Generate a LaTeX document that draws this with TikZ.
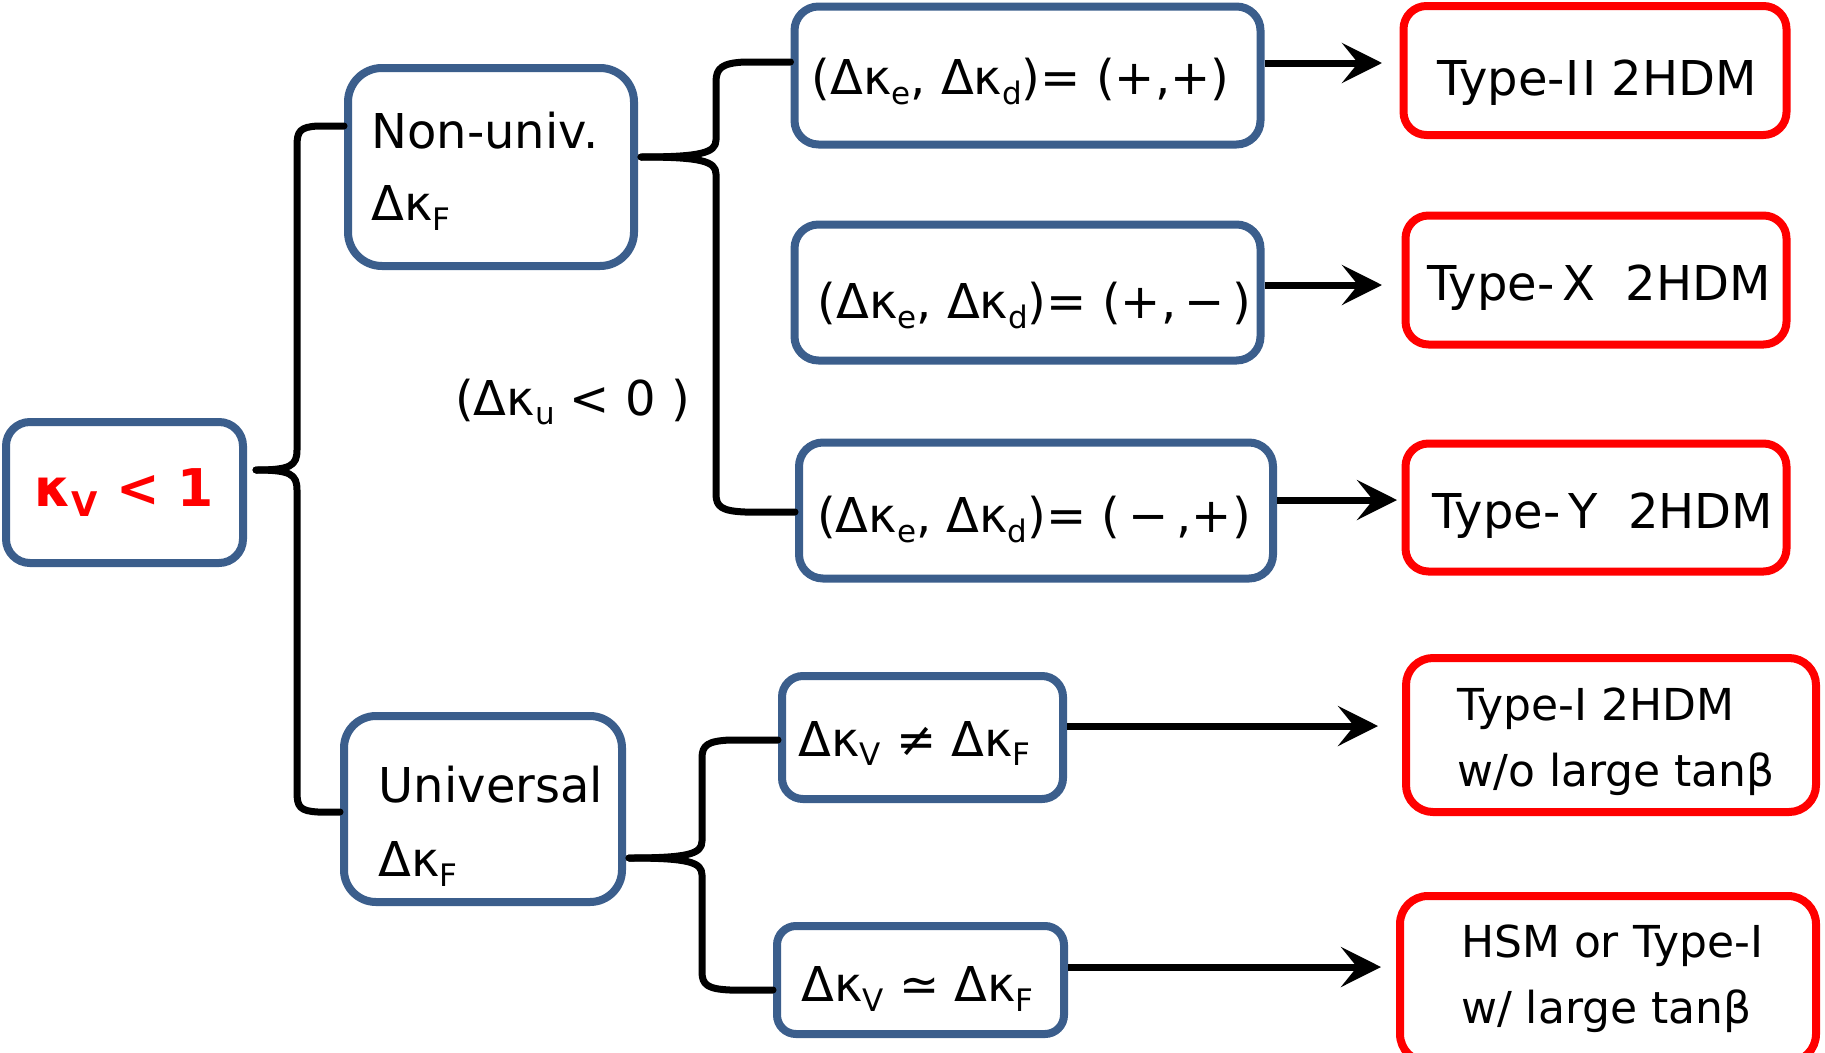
\documentclass[tikz,border=0pt]{standalone}
\usepackage{fontspec}
\setmainfont{DejaVu Sans}
\usetikzlibrary{arrows.meta,calc}
\definecolor{boxblue}{RGB}{59,94,140}
\definecolor{boxred}{RGB}{255,0,0}
\newcommand\sbs[1]{\raisebox{-0.2em}{\fontsize{31}{31}\selectfont #1}}
\begin{document}
\begin{tikzpicture}[x=1pt,y=-1pt,
  bbox/.style={draw=boxblue, line width=8pt, fill=white, inner sep=0pt},
  rbox/.style={draw=boxred, line width=8pt, fill=white, inner sep=0pt},
  txt/.style={inner sep=0pt, align=left, font=\fontsize{48}{74}\selectfont},
  stxt/.style={inner sep=0pt, align=left, font=\fontsize{44}{66}\selectfont},
  conn/.style={line width=7pt, line cap=round, line join=round},
  arr/.style={line width=7pt, -{Stealth[length=40pt, width=40pt, inset=16pt]}},
]
\path[use as bounding box, clip] (0,0) rectangle (1825,1052);

% named helper coordinates
\coordinate (t1) at (256,470);
\coordinate (t2) at (641,157);
\coordinate (t3) at (629,858);
\coordinate (y126) at (0,126);
\coordinate (y812) at (0,812);
\coordinate (y62) at (0,62);
\coordinate (y512) at (0,512);
\coordinate (y740) at (0,740);
\coordinate (y990) at (0,990);
\coordinate (a1) at (1382,63);
\coordinate (a2) at (1382,285);
\coordinate (a3) at (1397,500);
\coordinate (a4) at (1378,726);
\coordinate (a5) at (1381,967);

% boxes
\node[bbox, rounded corners=24pt, minimum width=237pt, minimum height=141pt] (kv) at (124.5,492.5) {};
\node[bbox, rounded corners=34pt, minimum width=286pt, minimum height=198pt] (nu) at (491,167) {};
\node[bbox, rounded corners=32pt, minimum width=278pt, minimum height=186pt] (un) at (483,809) {};
\node[bbox, rounded corners=24pt, minimum width=466pt, minimum height=138pt] (b1) at (1027.5,75.5) {};
\node[bbox, rounded corners=24pt, minimum width=466pt, minimum height=136pt] (b2) at (1027.5,292.5) {};
\node[bbox, rounded corners=24pt, minimum width=474pt, minimum height=136pt] (b3) at (1036,510.5) {};
\node[bbox, rounded corners=21pt, minimum width=281pt, minimum height=123pt] (b4) at (922.5,737.5) {};
\node[bbox, rounded corners=19pt, minimum width=287pt, minimum height=108pt] (b5) at (920.5,980) {};

\node[rbox, rounded corners=23pt, minimum width=383pt, minimum height=129pt] (rA) at (1595,70.5) {};
\node[rbox, rounded corners=23pt, minimum width=381pt, minimum height=129pt] (rB) at (1596,280) {};
\node[rbox, rounded corners=23pt, minimum width=381pt, minimum height=128pt] (rC) at (1596,507.5) {};
\node[rbox, rounded corners=27pt, minimum width=410pt, minimum height=154pt] (rD) at (1611,735) {};
\node[rbox, rounded corners=28pt, minimum width=416pt, minimum height=166pt] (rE) at (1608,979) {};

% texts
\node[txt, text=boxred, font=\bfseries\fontsize{52}{52}\selectfont] (kvT) at (kv.center)
  {κ\raisebox{-0.2em}{\fontsize{34}{34}\selectfont V} < 1};
\node[txt] (nuT) at ($(nu.center)+(-6,4)$) {Non-univ.\\[-2pt]Δκ\sbs{F}};
\node[txt] (unT) at ($(un.center)+(8,17)$) {Universal\\Δκ\sbs{F}};
\node[txt] (b1T) at ($(b1.center)+(-7,6)$) {(Δκ\sbs{e}, Δκ\sbs{d})= (+,+)};
\node[txt] (b2T) at ($(b2.center)+(7,13)$) {(Δκ\sbs{e}, Δκ\sbs{d})= (+,\,−\,)};
\node[txt] (b3T) at ($(b3.center)+(-2,9)$) {(Δκ\sbs{e}, Δκ\sbs{d})= (\,−\,,+)};
\node[txt] (b4T) at ($(b4.center)+(-8,6)$) {Δκ\sbs{V} ≠ Δκ\sbs{F}};
\node[txt] (b5T) at ($(b5.center)+(-3,9)$) {Δκ\sbs{V} ≃ Δκ\sbs{F}};
\node[txt] (rAT) at ($(rA.center)+(2,12)$) {Type-I\kern3pt I 2HDM};
\node[txt] (rBT) at ($(rB.center)+(3,8)$) {Type-\,X\ \ 2HDM};
\node[txt] (rCT) at ($(rC.center)+(7,8)$) {Type-\,Y\ \ 2HDM};
\node[stxt] (rDT) at ($(rD.center)+(5,7)$) {Type-I 2HDM\\w/o large tanβ};
\node[stxt] (rET) at ($(rE.center)+(4,0)$) {HSM or Type-I\\w/ large tanβ};

\node[anchor=base west, inner sep=0pt, font=\fontsize{48}{48}\selectfont] (lab) at (455,415) {(Δκ\sbs{u} < 0 )};

% brace 1
\draw[conn] (t1) .. controls (290,470) and (297,466) .. (297,450) -- (297,146)
  .. controls (297,131) and (300,127) .. (318,126) -- (nu.west |- y126);
\draw[conn] (t1) .. controls (290,470) and (297,474) .. (297,490) -- (297,792)
  .. controls (297,807) and (300,811) .. (318,812) -- (un.west |- y812);
% brace 2
\draw[conn] (t2) .. controls (700,157) and (716,153) .. (716,140) -- (716,82)
  .. controls (716,68) and (722,63) .. (745,62) -- (b1.west |- y62);
\draw[conn] (t2) .. controls (700,157) and (716,161) .. (716,174) -- (716,494)
  .. controls (716,507) and (722,511) .. (745,512) -- (b3.west |- y512);
% brace 3
\draw[conn] (t3) .. controls (688,858) and (702,854) .. (702,841) -- (702,758)
  .. controls (702,745) and (708,741) .. (730,740) -- (b4.west |- y740);
\draw[conn] (t3) .. controls (688,858) and (702,862) .. (702,875) -- (702,972)
  .. controls (702,985) and (708,989) .. (730,990) -- (b5.west |- y990);

% arrows
\draw[arr] (b1.east |- a1) -- (a1);
\draw[arr] (b2.east |- a2) -- (a2);
\draw[arr] (b3.east |- a3) -- (a3);
\draw[arr] (b4.east |- a4) -- (a4);
\draw[arr] (b5.east |- a5) -- (a5);
\end{tikzpicture}
\end{document}
